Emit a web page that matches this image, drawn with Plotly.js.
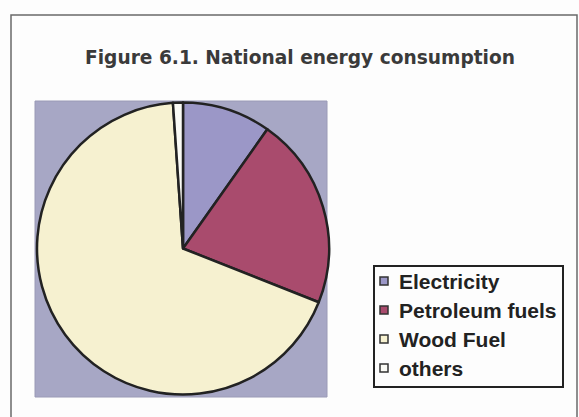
<!DOCTYPE html>
<html>
<head>
<meta charset="utf-8">
<script src="https://cdn.plot.ly/plotly-3.0.1.min.js"></script>
<style>html,body{margin:0;padding:0;background:#fdfdfd;}#chart{width:579px;height:417px;}</style>
</head>
<body>
<div id="chart"></div>
<script>
// Data (share of national energy consumption, %)
const labels = ["Electricity", "Petroleum fuels", "Wood Fuel", "others"];
const values = [9.8, 21.2, 67.9, 1.1];
const colors = ["#9b97c7", "#a94b6d", "#f6f1d0", "#fbfbf6"];
const titleText = "Figure 6.1. National energy consumption";

const W = 579, H = 417;
const px = v => v / W;
const py = v => 1 - v / H;

const shapes = [
  // outer frame
  {type: "rect", xref: "paper", yref: "paper", x0: px(11), x1: px(577), y0: py(15), y1: -0.2,
   line: {color: "#6a6a6a", width: 1.5}, fillcolor: "rgba(0,0,0,0)", layer: "below"},
  // plot area background
  {type: "rect", xref: "paper", yref: "paper", x0: px(35), x1: px(327), y0: py(101), y1: py(397),
   line: {color: "#9a9ab6", width: 1}, fillcolor: "#a7a7c5", layer: "below"},
  // legend box
  {type: "rect", xref: "paper", yref: "paper", x0: px(374), x1: px(563), y0: py(266), y1: py(387),
   line: {color: "#222222", width: 2}, fillcolor: "#fdfdfd", layer: "below"}
];
const annotations = [];
const legTop = 281, legStep = 29;
labels.forEach((lab, i) => {
  const yc = legTop + i * legStep;
  shapes.push({type: "rect", xref: "paper", yref: "paper", x0: px(380), x1: px(388), y0: py(yc - 4), y1: py(yc + 4),
    line: {color: "#333333", width: 1.5}, fillcolor: colors[i], layer: "above"});
  annotations.push({xref: "paper", yref: "paper", x: px(397), y: py(yc), xanchor: "left", yanchor: "middle",
    text: lab, showarrow: false,
    font: {family: "Liberation Sans, Arial, sans-serif", size: 21, weight: "bold", color: "#222222"}});
});

const data = [{
  type: "pie",
  labels: labels,
  values: values,
  sort: false,
  direction: "clockwise",
  rotation: 0,
  textinfo: "none",
  hoverinfo: "none",
  showlegend: false,
  marker: {colors: colors, line: {color: "#222222", width: 2.5}},
  domain: {x: [px(37), px(329)], y: [py(394.5), py(102.5)]}
}];

const layout = {
  width: W, height: H,
  margin: {l: 0, r: 0, t: 0, b: 0},
  paper_bgcolor: "#fdfdfd",
  title: {text: titleText, x: px(300), xanchor: "center", xref: "paper", y: py(57), yanchor: "middle", yref: "paper",
    font: {family: "DejaVu Sans, sans-serif", size: 18.6, weight: "bold", color: "#3a3a3a"}},
  showlegend: false,
  shapes: shapes,
  annotations: annotations
};

Plotly.newPlot("chart", data, layout, {staticPlot: true, displayModeBar: false});
</script>
</body>
</html>
